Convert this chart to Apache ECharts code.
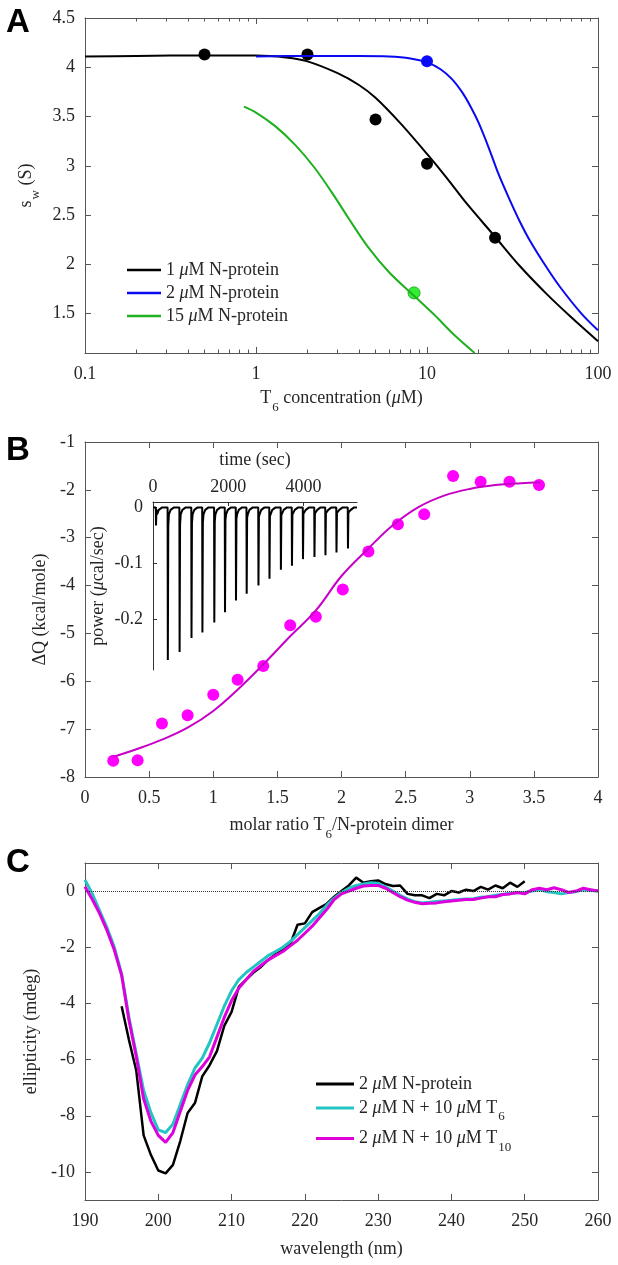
<!DOCTYPE html>
<html>
<head>
<meta charset="utf-8">
<script src="https://cdn.jsdelivr.net/npm/echarts@6.0.0/dist/echarts.min.js"></script>
<style>
html, body { margin: 0; padding: 0; background: #fff; }
#chart { width: 618px; height: 1265px; }
</style>
</head>
<body>
<div id="chart"></div>
<script>
// ---- panel A : s_w vs T6 concentration (log axis) ----
const aNames = ['1 μM N-protein', '2 μM N-protein', '15 μM N-protein'];
const aPts1X = [0.5, 2, 5, 10, 25];
const aPts1Y = [4.13, 4.13, 3.47, 3.02, 2.27];
const aPts2X = [10];
const aPts2Y = [4.06];
const aPts15X = [8.4];
const aPts15Y = [1.71];
const aFit1X = [0.1, 0.2, 0.5, 1, 1.5, 2, 3, 4, 5, 7, 10, 13, 17, 25, 35, 50, 70, 100];
const aFit1Y = [4.11, 4.115, 4.12, 4.12, 4.10, 4.06, 3.94, 3.82, 3.69, 3.43, 3.12, 2.88, 2.62, 2.28, 1.98, 1.70, 1.46, 1.22];
const aFit2X = [1, 2, 4, 6, 8, 10, 12, 14, 16, 18, 20, 23, 26, 30, 35, 40, 50, 60, 80, 100];
const aFit2Y = [4.11, 4.115, 4.115, 4.11, 4.09, 4.05, 3.98, 3.88, 3.75, 3.60, 3.44, 3.18, 2.93, 2.68, 2.43, 2.24, 1.97, 1.77, 1.50, 1.33];
const aFit15X = [0.85, 1, 1.3, 1.7, 2.2, 2.8, 3.5, 4.5, 6, 8.4, 11, 14.5, 19];
const aFit15Y = [3.60, 3.54, 3.40, 3.21, 2.98, 2.72, 2.46, 2.18, 1.92, 1.68, 1.49, 1.28, 1.10];
const aXTickLabels = ['0.1', '1', '10', '100'];
const aXMinor = [0.2, 0.3, 0.4, 0.5, 0.6, 0.7, 0.8, 0.9, 2, 3, 4, 5, 6, 7, 8, 9, 20, 30, 40, 50, 60, 70, 80, 90];
const aYTicks = [1.5, 2, 2.5, 3, 3.5, 4, 4.5];

// ---- panel B : ITC ----
const bRatio = [0.22, 0.41, 0.60, 0.80, 1.00, 1.19, 1.39, 1.60, 1.80, 2.01, 2.21, 2.44, 2.645, 2.87, 3.085, 3.31, 3.54];
const bHeat = [-7.66, -7.65, -6.88, -6.71, -6.28, -5.97, -5.68, -4.83, -4.65, -4.08, -3.29, -2.72, -2.51, -1.71, -1.83, -1.83, -1.90];
const bFitX = [0.22, 0.4, 0.6, 0.8, 1.0, 1.2, 1.4, 1.6, 1.8, 2.0, 2.2, 2.4, 2.6, 2.8, 3.0, 3.2, 3.4, 3.55];
const bFitY = [-7.58, -7.42, -7.22, -6.97, -6.62, -6.15, -5.62, -5.06, -4.52, -3.80, -3.25, -2.74, -2.36, -2.12, -1.98, -1.90, -1.86, -1.84];
// inset: injection times (s) and peak power (µcal/s)
const insetTimes = [74, 388, 701, 1017, 1307, 1623, 1907, 2199, 2483, 2796, 3089, 3392, 3686, 3979, 4284, 4576, 4869, 5174];
const insetPeaks = [-0.032, -0.272, -0.258, -0.233, -0.223, -0.205, -0.187, -0.166, -0.154, -0.139, -0.127, -0.111, -0.104, -0.092, -0.088, -0.085, -0.080, -0.073];
const insetXTicks = [0, 2000, 4000];
const insetYTicks = [0, -0.1, -0.2];

// ---- panel C : CD spectra ----
// trailing space keeps the first name distinct from panel A's '2 μM N-protein'
const cNames = ['2 μM N-protein ', '2 μM N + 10 μM T_6', '2 μM N + 10 μM T_10'];
const cWaveBlack = [195, 196, 197, 198, 199, 200, 201, 202, 203, 204, 205, 206, 207, 208, 209, 210, 211, 212, 213, 214, 215, 216, 217, 218, 219, 220, 221, 222, 223, 224, 225, 226, 227, 228, 229, 230, 231, 232, 233, 234, 235, 236, 237, 238, 239, 240, 241, 242, 243, 244, 245, 246, 247, 248, 249, 250];
const cBlack = [-4.1, -5.3, -6.4, -8.7, -9.4, -9.95, -10.05, -9.75, -8.9, -7.9, -7.55, -6.6, -6.2, -5.7, -4.8, -4.3, -3.4, -3.15, -2.9, -2.7, -2.45, -2.25, -2.1, -1.9, -1.2, -1.15, -0.75, -0.6, -0.45, -0.2, 0.0, 0.2, 0.48, 0.3, 0.35, 0.38, 0.25, 0.18, 0.2, -0.1, -0.15, -0.15, -0.25, -0.1, -0.15, 0.0, -0.05, 0.05, 0.0, 0.15, 0.05, 0.2, 0.1, 0.3, 0.15, 0.35];
const cWave = [190, 191, 192, 193, 194, 195, 196, 197, 198, 199, 200, 201, 202, 203, 204, 205, 206, 207, 208, 209, 210, 211, 212, 213, 214, 215, 216, 217, 218, 219, 220, 221, 222, 223, 224, 225, 226, 227, 228, 229, 230, 231, 232, 233, 234, 235, 236, 237, 238, 239, 240, 241, 242, 243, 244, 245, 246, 247, 248, 249, 250, 251, 252, 253, 254, 255, 256, 257, 258, 259, 260];
const cCyan = [0.4, -0.1, -0.7, -1.3, -2.0, -2.95, -4.5, -5.8, -7.1, -7.9, -8.5, -8.6, -8.3, -7.6, -6.9, -6.3, -5.95, -5.4, -4.75, -4.1, -3.55, -3.15, -2.9, -2.7, -2.5, -2.3, -2.15, -2.0, -1.8, -1.55, -1.3, -1.05, -0.8, -0.5, -0.25, -0.05, 0.1, 0.2, 0.25, 0.3, 0.28, 0.15, 0.0, -0.15, -0.28, -0.38, -0.42, -0.4, -0.37, -0.35, -0.33, -0.3, -0.28, -0.27, -0.22, -0.2, -0.15, -0.12, -0.08, -0.06, -0.05, 0.0, 0.05, -0.02, -0.05, -0.1, -0.05, -0.02, 0.05, 0.02, 0.0];
const cMagenta = [0.15, -0.3, -0.8, -1.4, -2.1, -3.0, -4.6, -5.9, -7.4, -8.2, -8.7, -8.95, -8.6, -7.85, -7.1, -6.55, -6.25, -5.9, -5.2, -4.5, -3.9, -3.45, -3.15, -2.85, -2.65, -2.45, -2.3, -2.15, -1.95, -1.75, -1.5, -1.25, -0.95, -0.65, -0.3, -0.1, 0.0, 0.1, 0.18, 0.2, 0.2, 0.1, -0.05, -0.2, -0.32, -0.4, -0.45, -0.43, -0.42, -0.38, -0.35, -0.33, -0.3, -0.3, -0.25, -0.2, -0.2, -0.12, -0.1, -0.05, -0.1, 0.05, 0.1, 0.05, 0.12, 0.05, -0.05, 0.0, 0.1, 0.05, 0.0];
const cYTicks = [-10, -8, -6, -4, -2, 0];

// ---- styles ----
const serif = 'Liberation Serif';
const textColor = '#262626';
const lineColor = '#555';
const rich = {
    i: { fontStyle: 'italic', fontFamily: serif, fontSize: 18, color: textColor },
    sub: { fontFamily: serif, fontSize: 13, color: textColor, padding: [18, 0, 0, 1] }
};
const nameStyle = { fontFamily: serif, fontSize: 18, color: textColor, rich: rich };
const labelStyle = { fontFamily: serif, fontSize: 18, color: textColor };

function zip(xs, ys) { return xs.map((x, i) => [x, ys[i]]); }
function zipLog(xs, ys) { return xs.map((x, i) => [Math.log10(x), ys[i]]); }
function fmtRich(name) { return name.trim().replace(/μ/g, '{i|μ}').replace(/_(\d+)/, '{sub|$1}'); }

// build inset trace from injection times and peak heights
const insetTrace = [[0, 0]];
insetTimes.forEach((t, i) => {
    const p = insetPeaks[i];
    insetTrace.push([t, 0], [t + 6, p], [t + 18, p * 0.12], [t + 35, -0.012], [t + 80, -0.004], [t + 160, 0]);
});
insetTrace.push([5420, 0]);

function xAx(grid, extra) {
    return Object.assign({
        gridIndex: grid, type: 'value', position: 'bottom',
        axisLine: { onZero: false, lineStyle: { color: lineColor, width: 1 } },
        axisTick: { inside: true, length: 6, lineStyle: { color: lineColor } },
        axisLabel: Object.assign({ margin: 12 }, labelStyle),
        splitLine: { show: false },
        nameLocation: 'middle', nameTextStyle: nameStyle
    }, extra);
}
function yAx(grid, extra) {
    return Object.assign({
        gridIndex: grid, type: 'value', position: 'left',
        axisLine: { onZero: false, lineStyle: { color: lineColor, width: 1 } },
        axisTick: { inside: true, length: 6, lineStyle: { color: lineColor } },
        axisLabel: Object.assign({ margin: 10 }, labelStyle),
        splitLine: { show: false },
        nameLocation: 'middle', nameRotate: 90, nameTextStyle: nameStyle
    }, extra);
}
const aMinorLog = aXMinor.map(v => Math.log10(v));
const hideLabel = { show: false };
const legendText = { fontFamily: serif, fontSize: 18, color: textColor, rich: rich };

const option = {
    animation: false,
    backgroundColor: '#fff',
    grid: [
        { left: 85, width: 513, top: 18, height: 335 },
        { left: 85, width: 513, top: 442, height: 335 },
        { left: 153, width: 204, top: 502, height: 168 },
        { left: 85, width: 513, top: 863, height: 337 }
    ],
    xAxis: [
        // 0-3 panel A (log10 positions)
        xAx(0, { min: -1, max: 2, interval: 1,
            axisLabel: Object.assign({ margin: 12, formatter: v => aXTickLabels[Math.round(v) + 1] }, labelStyle),
            name: 'T{sub|6} concentration ({i|μ}M)', nameGap: 30 }),
        xAx(0, { min: -1, max: 2, axisLine: { show: false }, axisLabel: hideLabel,
            axisTick: { inside: true, length: 3.5, customValues: aMinorLog, lineStyle: { color: lineColor } } }),
        xAx(0, { min: -1, max: 2, interval: 1, position: 'top', axisLabel: hideLabel }),
        xAx(0, { min: -1, max: 2, position: 'top', axisLine: { show: false }, axisLabel: hideLabel,
            axisTick: { inside: true, length: 3.5, customValues: aMinorLog, lineStyle: { color: lineColor } } }),
        // 4-5 panel B
        xAx(1, { min: 0, max: 4, interval: 0.5, name: 'molar ratio T{sub|6}/N-protein dimer', nameGap: 33 }),
        xAx(1, { min: 0, max: 4, interval: 0.5, position: 'top', axisLabel: hideLabel }),
        // 6 inset
        xAx(2, { min: 0, max: 5420, position: 'top',
            axisTick: { inside: true, length: 4, customValues: insetXTicks, lineStyle: { color: '#333' } },
            axisLine: { onZero: false, lineStyle: { color: '#333', width: 1 } },
            axisLabel: Object.assign({ margin: 6, customValues: insetXTicks, formatter: v => String(v) }, labelStyle),
            name: 'time (sec)', nameGap: 33 }),
        // 7-8 panel C
        xAx(3, { min: 190, max: 260, interval: 10, name: 'wavelength (nm)', nameGap: 40 }),
        xAx(3, { min: 190, max: 260, interval: 10, position: 'top', axisLabel: hideLabel })
    ],
    yAxis: [
        yAx(0, { min: 1.1, max: 4.5,
            axisTick: { inside: true, length: 6, customValues: aYTicks, lineStyle: { color: lineColor } },
            axisLabel: Object.assign({ margin: 10, customValues: aYTicks }, labelStyle),
            name: 's{sub|w} (S)', nameGap: 36 }),
        yAx(0, { min: 1.1, max: 4.5, position: 'right', axisLabel: hideLabel,
            axisTick: { inside: true, length: 6, customValues: aYTicks, lineStyle: { color: lineColor } } }),
        yAx(1, { min: -8, max: -1, interval: 1, name: 'ΔQ (kcal/mole)', nameGap: 34 }),
        yAx(1, { min: -8, max: -1, interval: 1, position: 'right', axisLabel: hideLabel }),
        yAx(2, { min: -0.29, max: 0.01,
            axisLine: { onZero: false, lineStyle: { color: '#333', width: 1 } },
            axisTick: { inside: true, length: 4, customValues: insetYTicks, lineStyle: { color: '#333' } },
            axisLabel: Object.assign({ margin: 10, customValues: insetYTicks }, labelStyle),
            name: 'power ({i|μ}cal/sec)', nameGap: 46 }),
        yAx(3, { min: -11, max: 1,
            axisTick: { inside: true, length: 6, customValues: cYTicks, lineStyle: { color: lineColor } },
            axisLabel: Object.assign({ margin: 10, customValues: cYTicks }, labelStyle),
            name: 'ellipticity (mdeg)', nameGap: 42 }),
        yAx(3, { min: -11, max: 1, position: 'right', axisLabel: hideLabel,
            axisTick: { inside: true, length: 6, customValues: cYTicks, lineStyle: { color: lineColor } } })
    ],
    legend: [
        { data: aNames, orient: 'vertical', left: 122, top: 256, icon: 'rect', itemWidth: 34, itemHeight: 2.5, itemGap: 5,
          selectedMode: false, formatter: fmtRich, textStyle: legendText },
        { data: cNames, orient: 'vertical', left: 311, top: 1070, icon: 'rect', itemWidth: 38, itemHeight: 3, itemGap: 6,
          selectedMode: false, formatter: fmtRich, textStyle: legendText }
    ],
    graphic: [
        { type: 'text', left: 6, top: 6, style: { text: 'A', font: 'bold 33px "Liberation Sans"', fill: '#000' } },
        { type: 'text', left: 6, top: 434, style: { text: 'B', font: 'bold 33px "Liberation Sans"', fill: '#000' } },
        { type: 'text', left: 6, top: 846, style: { text: 'C', font: 'bold 33px "Liberation Sans"', fill: '#000' } }
    ],
    series: [
        // panel A
        { name: aNames[0], type: 'line', xAxisIndex: 0, yAxisIndex: 0, data: zipLog(aFit1X, aFit1Y),
          smooth: 0.3, symbol: 'none', lineStyle: { color: '#000', width: 2 }, itemStyle: { color: '#000' } },
        { name: aNames[1], type: 'line', xAxisIndex: 0, yAxisIndex: 0, data: zipLog(aFit2X, aFit2Y),
          smooth: 0.3, symbol: 'none', lineStyle: { color: '#0a0aee', width: 2 }, itemStyle: { color: '#0a0aee' } },
        { name: aNames[2], type: 'line', xAxisIndex: 0, yAxisIndex: 0, data: zipLog(aFit15X, aFit15Y),
          smooth: 0.3, symbol: 'none', lineStyle: { color: '#1fb01f', width: 2 }, itemStyle: { color: '#1fb01f' } },
        { name: 'pts 1', type: 'scatter', xAxisIndex: 0, yAxisIndex: 0, data: zipLog(aPts1X, aPts1Y),
          symbolSize: 12, itemStyle: { color: '#000', opacity: 1 } },
        { name: 'pts 2', type: 'scatter', xAxisIndex: 0, yAxisIndex: 0, data: zipLog(aPts2X, aPts2Y),
          symbolSize: 12, itemStyle: { color: '#0a0aff', opacity: 1 } },
        { name: 'pts 15', type: 'scatter', xAxisIndex: 0, yAxisIndex: 0, data: zipLog(aPts15X, aPts15Y),
          symbolSize: 12, itemStyle: { color: '#33ee33', borderColor: '#22aa22', borderWidth: 1, opacity: 1 } },
        // panel B
        { name: 'fit B', type: 'line', xAxisIndex: 4, yAxisIndex: 2, data: zip(bFitX, bFitY),
          smooth: 0.4, symbol: 'none', lineStyle: { color: '#c800c8', width: 2 } },
        { name: 'ITC', type: 'scatter', xAxisIndex: 4, yAxisIndex: 2, data: zip(bRatio, bHeat),
          symbolSize: 12, itemStyle: { color: '#ff00ff', opacity: 1 } },
        { name: 'raw', type: 'line', xAxisIndex: 6, yAxisIndex: 4, data: insetTrace,
          symbol: 'none', lineStyle: { color: '#000', width: 2 } },
        // panel C
        { name: cNames[0], type: 'line', xAxisIndex: 7, yAxisIndex: 5, data: zip(cWaveBlack, cBlack),
          symbol: 'none', lineStyle: { color: '#000', width: 2.5 }, itemStyle: { color: '#000' },
          markLine: { silent: true, symbol: 'none', label: { show: false },
                      lineStyle: { type: 'dotted', color: '#333', width: 1 }, data: [{ yAxis: 0 }] } },
        { name: cNames[1], type: 'line', xAxisIndex: 7, yAxisIndex: 5, data: zip(cWave, cCyan),
          symbol: 'none', lineStyle: { color: '#22c4c4', width: 3 }, itemStyle: { color: '#22c4c4' } },
        { name: cNames[2], type: 'line', xAxisIndex: 7, yAxisIndex: 5, data: zip(cWave, cMagenta),
          symbol: 'none', lineStyle: { color: '#dd00dd', width: 3 }, itemStyle: { color: '#dd00dd' } }
    ]
};

const chart = echarts.init(document.getElementById('chart'), null, { renderer: 'canvas' });
chart.setOption(option);
</script>
</body>
</html>
